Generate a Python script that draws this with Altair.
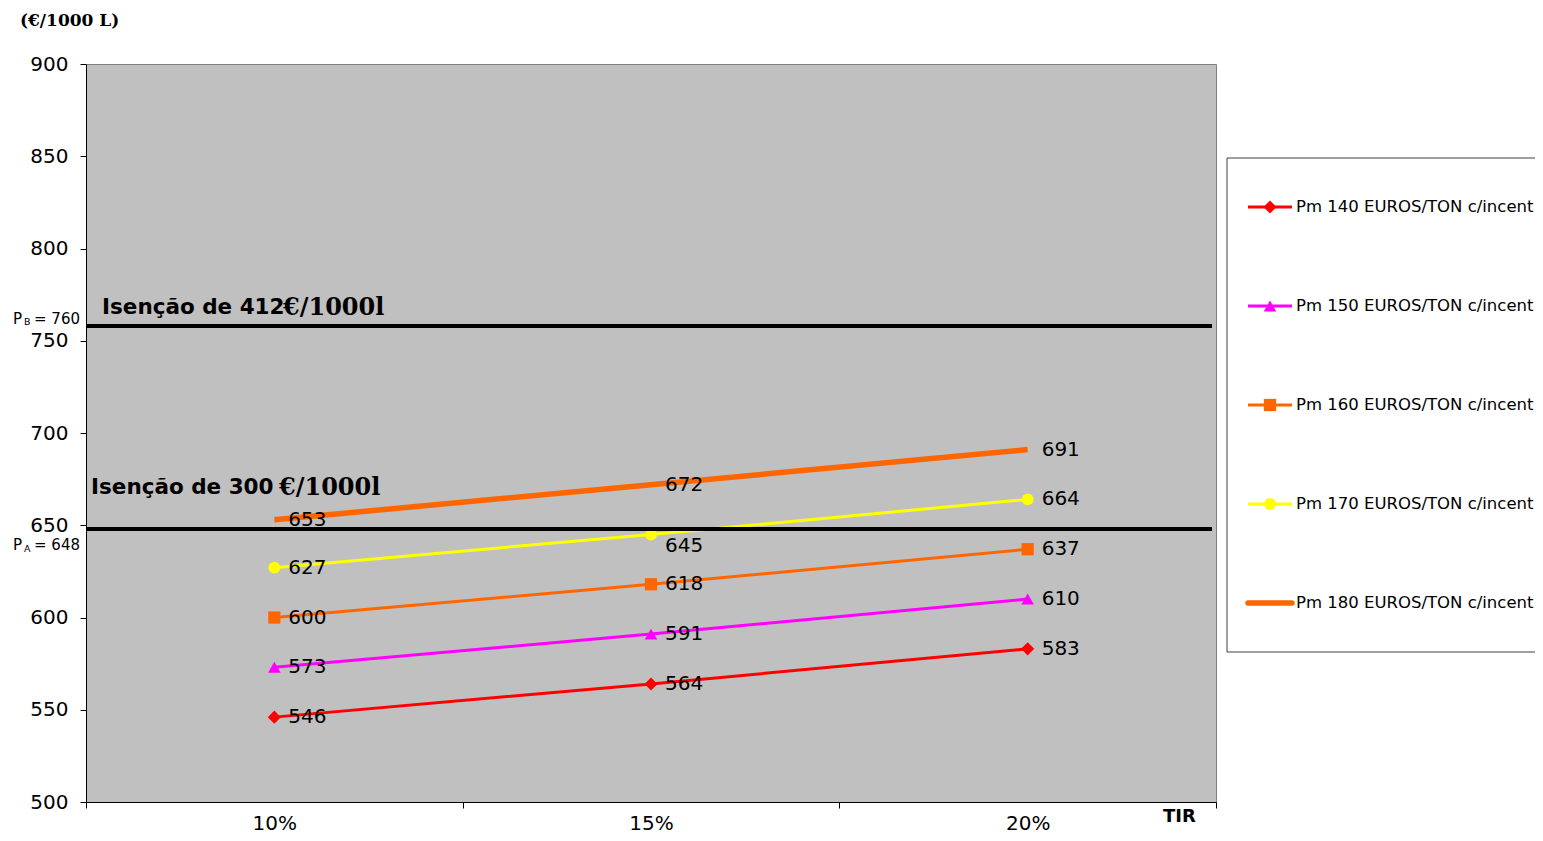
import altair as alt
import pandas as pd

# ---- data ----
tir = ["10%", "15%", "20%"]
series = [
    "Pm 140 EUROS/TON c/incent",
    "Pm 150 EUROS/TON c/incent",
    "Pm 160 EUROS/TON c/incent",
    "Pm 170 EUROS/TON c/incent",
    "Pm 180 EUROS/TON c/incent",
]
v140 = [546, 564, 583]
v150 = [573, 591, 610]
v160 = [600, 618, 637]
v170 = [627, 645, 664]
v180 = [653, 672, 691]
ref_levels = [758, 648]
y_ticks = [500, 550, 600, 650, 700, 750, 800, 850, 900]

# ---- styles ----
colors = ["#FF0000", "#FF00FF", "#FF6600", "#FFFF00", "#FF6600"]
shapes = ["diamond", "triangle-up", "square", "circle"]
sizes = [170, 140, 110, 130]

rows = []
for s, vals in zip(series, [v140, v150, v160, v170, v180]):
    for t, v in zip(tir, vals):
        rows.append({"tir": t, "series": s, "value": v})
df = pd.DataFrame(rows)
df_thin = df[df["series"] != series[4]]
df_thick = df[df["series"] == series[4]]
one = pd.DataFrame({"k": [0]})
leg = pd.DataFrame({"series": series})
leg_thin = pd.DataFrame({"series": series[:4]})
leg_thick = pd.DataFrame({"series": series[4:]})

W, H = 1130, 738

X = alt.X(
    "tir:N", sort=tir, bandPosition=0.5,
    scale=alt.Scale(type="band", paddingInner=0, paddingOuter=0),
    axis=alt.Axis(title=None, labelAngle=0, tickBand="extent", tickSize=6,
                  labelPadding=5, labelFont="DejaVu Sans", labelFontSize=20,
                  labelColor="black", domainColor="black", tickColor="black",
                  grid=False),
)
Y = alt.Y(
    "value:Q",
    scale=alt.Scale(domain=[500, 900], nice=False, zero=False),
    axis=alt.Axis(title=None, values=y_ticks, tickSize=6, labelPadding=12,
                  labelFont="DejaVu Sans", labelFontSize=20, labelColor="black",
                  domainColor="black", tickColor="black", grid=False),
)
color = alt.Color("series:N", scale=alt.Scale(domain=series, range=colors), legend=None)
shape = alt.Shape("series:N", scale=alt.Scale(domain=series[:4], range=shapes), legend=None)
size = alt.Size("series:N", scale=alt.Scale(domain=series[:4], range=sizes), legend=None)

lines = alt.Chart(df_thin).mark_line(strokeWidth=3).encode(x=X, y=Y, color=color, detail="series:N")
line_thick = alt.Chart(df_thick).mark_line(strokeWidth=5.5).encode(x=X, y=Y, color=color)
points = alt.Chart(df_thin).mark_point(filled=True, opacity=1).encode(
    x=X, y=Y, color=color, shape=shape, size=size)

refs = alt.Chart(pd.DataFrame({"level": ref_levels})).mark_rule(
    color="black", strokeWidth=4).encode(
    y=alt.Y("level:Q"), x=alt.value(0), x2=alt.value(W - 4))

lab_font = dict(font="DejaVu Sans", fontSize=20, color="black", align="left", baseline="middle")
labels = alt.Chart(df).mark_text(dx=14, **lab_font).encode(
    x=X, y=Y, text="value:Q").transform_filter(
    f"!(datum.series == '{series[3]}' && datum.tir == '{tir[1]}')")
labels_low = alt.Chart(df).mark_text(dx=14, dy=12, **lab_font).encode(
    x=X, y=Y, text="value:Q").transform_filter(
    f"datum.series == '{series[3]}' && datum.tir == '{tir[1]}'")

def txt(text, x, level, dy, font, size, bold=True, baseline="middle"):
    return alt.Chart(one).mark_text(
        align="left", baseline=baseline, dy=dy, font=font, fontSize=size,
        fontWeight="bold" if bold else "normal", color="black").encode(
        x=alt.value(x), y=alt.datum(level), text=alt.value(text))

ann = [
    txt("Isenção de 412", 16, ref_levels[0], -18, "DejaVu Sans", 21.5),
    txt("€/1000l", 197, ref_levels[0], -18, "DejaVu Serif", 24),
    txt("Isenção de 300", 5, ref_levels[1], -41, "DejaVu Sans", 21.5),
    txt("€/1000l", 193, ref_levels[1], -41, "DejaVu Serif", 24),
    txt("P", -73, ref_levels[0], -2, "DejaVu Sans", 15, bold=False, baseline="alphabetic"),
    txt("B", -62, ref_levels[0], -1, "DejaVu Sans", 9.5, bold=False, baseline="alphabetic"),
    txt("= 760", -52, ref_levels[0], -2, "DejaVu Sans", 15, bold=False, baseline="alphabetic"),
    txt("P", -73, ref_levels[1], 21, "DejaVu Sans", 15, bold=False, baseline="alphabetic"),
    txt("A", -62, ref_levels[1], 23, "DejaVu Sans", 9.5, bold=False, baseline="alphabetic"),
    txt("= 648", -52, ref_levels[1], 21, "DejaVu Sans", 15, bold=False, baseline="alphabetic"),
]

unit = alt.Chart(one).mark_text(
    align="left", baseline="middle", font="DejaVu Serif", fontSize=17,
    fontWeight="bold", color="black").encode(
    x=alt.value(-66), y=alt.value(-43), text=alt.value("(€/1000 L)"))
tir_title = alt.Chart(one).mark_text(
    align="left", baseline="middle", font="DejaVu Sans", fontSize=18,
    fontWeight="bold", color="black").encode(
    x=alt.value(1077), y=alt.value(H + 15), text=alt.value("TIR"))

main = alt.layer(lines, line_thick, points, refs, labels, labels_low, *ann, unit, tir_title)

# ---- legend panel ----
LY = alt.Y("series:N", sort=series, axis=None,
           scale=alt.Scale(type="point", range=[143, 539], padding=0))
box = alt.Chart(one).mark_rect(fill="white", stroke="#404040", strokeWidth=1).encode(
    x=alt.value(1141), x2=alt.value(1560), y=alt.value(94), y2=alt.value(588))
leg_lines = alt.Chart(leg_thin).mark_rule(strokeWidth=3).encode(
    x=alt.value(1162), x2=alt.value(1206), y=LY, color=color)
leg_line_thick = alt.Chart(leg_thick).mark_rule(strokeWidth=5.5, strokeCap="round").encode(
    x=alt.value(1162), x2=alt.value(1206), y=LY, color=color)
leg_points = alt.Chart(leg_thin).mark_point(filled=True, opacity=1).encode(
    x=alt.value(1184), y=LY, color=color, shape=shape, size=size)
leg_text = alt.Chart(leg).mark_text(
    align="left", baseline="middle", font="DejaVu Sans", fontSize=16.5, color="black").encode(
    x=alt.value(1210), y=LY, text="series:N")
legend = alt.layer(box, leg_lines, leg_line_thick, leg_points, leg_text)

chart = alt.layer(main, legend).resolve_scale(y="independent").properties(
    width=W, height=H,
    padding={"left": 78, "top": 56, "right": 319, "bottom": 31},
    autosize=alt.AutoSizeParams(type="none"),
).configure(background="white").configure_view(
    fill="#C0C0C0", stroke="#808080", strokeWidth=1)

chart.save("out.html", embed_options={"renderer": "svg", "actions": False})
